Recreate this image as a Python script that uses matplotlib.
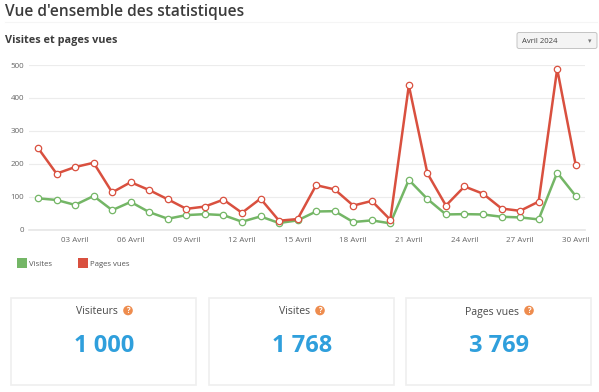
from matplotlib import pyplot as plt
from matplotlib.patches import Circle, FancyBboxPatch, Rectangle

# data
days = list(range(1, 31))
visites = [95, 90, 75, 102, 59, 84, 53, 33, 44, 47, 44, 24, 40, 20, 28,
           55, 56, 23, 28, 19, 151, 93, 46, 47, 46, 39, 37, 31, 173, 102]
pages_vues = [248, 170, 190, 203, 113, 144, 120, 92, 63, 70, 91, 51, 94, 27, 32,
              135, 122, 73, 87, 30, 438, 171, 73, 131, 109, 64, 57, 85, 488, 196]
tick_days = [3, 6, 9, 12, 15, 18, 21, 24, 27, 30]
tick_labels = ["03 Avril", "06 Avril", "09 Avril", "12 Avril", "15 Avril",
               "18 Avril", "21 Avril", "24 Avril", "27 Avril", "30 Avril"]
y_ticks = [0, 100, 200, 300, 400, 500]
card_titles = ["Visiteurs", "Visites", "Pages vues"]
card_values = ["1 000", "1 768", "3 769"]

GREEN = "#74b666"
RED = "#d9503f"
W, H = 599, 392

plt.rcParams["font.family"] = ["Open Sans", "DejaVu Sans"]
fig = plt.figure(figsize=(W / 100, H / 100), dpi=100, facecolor="white")

# page layer, in pixels
page = fig.add_axes([0, 0, 1, 1])
page.set_xlim(0, W)
page.set_ylim(H, 0)
page.axis("off")

page.text(5, 12, "Vue d'ensemble des statistiques", fontsize=11.2, color="#3c3c3c",
          weight="semibold", va="center", ha="left")
page.plot([5, 597], [22, 22], color="#f5f5f5", lw=0.8)
page.text(5, 40.5, "Visites et pages vues", fontsize=7.8, color="#3c3c3c",
          weight="bold", va="center", ha="left")

# month selector
page.add_patch(FancyBboxPatch((517, 32.5), 80, 16, boxstyle="round,pad=0,rounding_size=2",
                              fc="#f4f4f4", ec="#c4c4c4", lw=0.7))
page.text(521.5, 41.5, "Avril 2024", fontsize=5.6, color="#444444", va="center", ha="left")
page.text(590, 41, "▾", fontsize=5, color="#777777", va="center", ha="center",
          family="DejaVu Sans")

# legend
for x, label, color in [(17, "Visites", GREEN), (78, "Pages vues", RED)]:
    page.add_patch(Rectangle((x, 258), 10, 10, fc=color, ec="none"))
    page.text(x + 12, 265.5, label, fontsize=5.6, color="#555555", va="baseline", ha="left")

# cards
for x, title, value, q in zip([11, 209, 406], card_titles, card_values, [128, 320, 529]):
    page.add_patch(Rectangle((x, 298), 185, 87, fc="white", ec="#efefef", lw=1.2))
    title_x = q - 10
    page.text(title_x, 314.5, title, fontsize=7.6, color="#4a4a4a", va="baseline", ha="right")
    page.add_patch(Circle((q, 310.5), 4.8, fc="#ee8c4e", ec="none"))
    page.text(q, 310.7, "?", fontsize=5.5, color="white", weight="bold", va="center", ha="center")
    page.text(x + 93, 346.5, value, fontsize=17, color="#2f9fdc", weight="bold",
              va="center", ha="center")

# chart, placed so that 0 and 500 and the first and last day land as in the reference
ax = fig.add_axes([29 / W, 1 - 229.6 / H, 556 / W, 164.6 / H])
ax.patch.set_alpha(0)
ax.set_xlim(0.515, 30.5)
ax.set_ylim(0, 500)
ax.set_xticks(tick_days, tick_labels)
ax.set_yticks(y_ticks)
ax.tick_params(length=0, labelsize=5.8, labelcolor="#666666")
ax.tick_params(axis="x", pad=5.5)
ax.tick_params(axis="y", pad=3.5)
ax.grid(axis="y", color="#ececec", lw=0.8)
ax.set_axisbelow(True)
for side in ["top", "right", "left"]:
    ax.spines[side].set_visible(False)
ax.spines["bottom"].set_color("#e6e6e6")
ax.spines["bottom"].set_linewidth(1.2)

for values, color in [(visites, GREEN), (pages_vues, RED)]:
    ax.plot(days, values, color=color, lw=1.8, marker="o", ms=4.6, mfc="white",
            mec=color, mew=0.9, clip_on=False, solid_joinstyle="round")

fig.savefig("out.png", dpi=100)
